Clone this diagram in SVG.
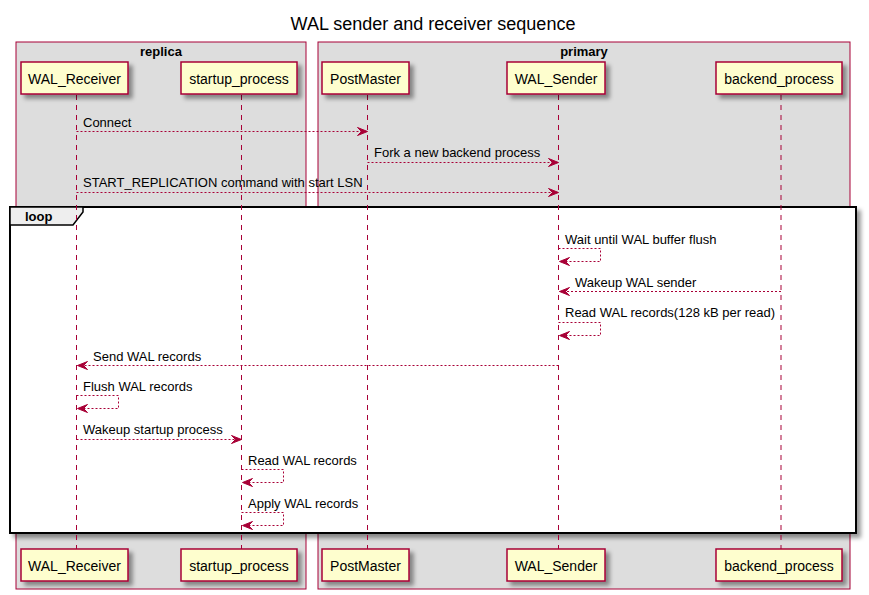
<svg xmlns="http://www.w3.org/2000/svg" width="869" height="595" viewBox="0 0 869 595">
<defs>
<filter id="sh" x="-1" y="-1" width="300%" height="300%">
<feGaussianBlur in="SourceAlpha" stdDeviation="2" result="b"/>
<feColorMatrix in="b" type="matrix" values="0 0 0 0 0 0 0 0 0 0 0 0 0 0 0 0 0 0 0.4 0" result="c"/>
<feOffset in="c" dx="4" dy="4" result="o"/>
<feBlend in="SourceGraphic" in2="o" mode="normal"/>
</filter>
<style>
text{font-family:"Liberation Sans",Arial,sans-serif;fill:#000}
.title{font-size:18px}
.boxt{font-size:13px;font-weight:bold}
.pt{font-size:14px}
.mt{font-size:13px}
.grp{fill:#DDDDDD;stroke:#A80036;stroke-width:1}
.part{fill:#FEFECE;stroke:#A80036;stroke-width:1.5}
.life{stroke:#A80036;stroke-width:1;stroke-dasharray:5,5;fill:none}
.msg{stroke:#A80036;stroke-width:1;stroke-dasharray:2,2;fill:none}
.head{fill:#A80036;stroke:#A80036;stroke-width:1}
.loop{fill:#FFFFFF;stroke:#000000;stroke-width:2}
.tab{fill:#EEEEEE;stroke:#000000;stroke-width:1.5}
</style>
</defs>

<text class="title" x="433" y="30" text-anchor="middle">WAL sender and receiver sequence</text>

<g id="box-replica">
<rect class="grp" x="16" y="42" width="290" height="547"/>
<text class="boxt" x="161" y="56" text-anchor="middle">replica</text>
</g>
<g id="box-primary">
<rect class="grp" x="318" y="42" width="532" height="547"/>
<text class="boxt" x="584" y="56" text-anchor="middle">primary</text>
</g>

<g id="loop">
<rect class="loop" x="10" y="207" width="846" height="326" filter="url(#sh)"/>
<path class="tab" d="M10,207 L83,207 L83,212 L73,225 L10,225 Z"/>
<text class="boxt" x="25" y="221">loop</text>
</g>

<g id="lifelines">
<line class="life" x1="76.5" y1="95" x2="76.5" y2="549"/>
<line class="life" x1="241.5" y1="95" x2="241.5" y2="549"/>
<line class="life" x1="367.5" y1="95" x2="367.5" y2="549"/>
<line class="life" x1="558.5" y1="95" x2="558.5" y2="549"/>
<line class="life" x1="781" y1="95" x2="781" y2="549"/>
</g>

<g id="WAL_Receiver">
<rect class="part" x="21" y="62" width="107" height="32" filter="url(#sh)"/>
<text class="pt" x="74.5" y="84" text-anchor="middle">WAL_Receiver</text>
<rect class="part" x="21" y="549" width="107" height="32" filter="url(#sh)"/>
<text class="pt" x="74.5" y="571" text-anchor="middle">WAL_Receiver</text>
</g>
<g id="startup_process">
<rect class="part" x="181" y="62" width="116" height="32" filter="url(#sh)"/>
<text class="pt" x="239" y="84" text-anchor="middle">startup_process</text>
<rect class="part" x="181" y="549" width="116" height="32" filter="url(#sh)"/>
<text class="pt" x="239" y="571" text-anchor="middle">startup_process</text>
</g>
<g id="PostMaster">
<rect class="part" x="322" y="62" width="87" height="32" filter="url(#sh)"/>
<text class="pt" x="365.5" y="84" text-anchor="middle">PostMaster</text>
<rect class="part" x="322" y="549" width="87" height="32" filter="url(#sh)"/>
<text class="pt" x="365.5" y="571" text-anchor="middle">PostMaster</text>
</g>
<g id="WAL_Sender">
<rect class="part" x="507" y="62" width="98" height="32" filter="url(#sh)"/>
<text class="pt" x="556" y="84" text-anchor="middle">WAL_Sender</text>
<rect class="part" x="507" y="549" width="98" height="32" filter="url(#sh)"/>
<text class="pt" x="556" y="571" text-anchor="middle">WAL_Sender</text>
</g>
<g id="backend_process">
<rect class="part" x="716" y="62" width="126" height="32" filter="url(#sh)"/>
<text class="pt" x="779" y="84" text-anchor="middle">backend_process</text>
<rect class="part" x="716" y="549" width="126" height="32" filter="url(#sh)"/>
<text class="pt" x="779" y="571" text-anchor="middle">backend_process</text>
</g>

<g id="connectors">
<!-- Connect -->
<line class="msg" x1="76.5" y1="131.5" x2="366.5" y2="131.5"/>
<polygon class="head" points="357.5,127.5 367.5,131.5 357.5,135.5 361.5,131.5"/>
<text class="mt" x="83" y="127">Connect</text>
<!-- Fork -->
<line class="msg" x1="367.5" y1="162.5" x2="557.5" y2="162.5"/>
<polygon class="head" points="548.5,158.5 558.5,162.5 548.5,166.5 552.5,162.5"/>
<text class="mt" x="374" y="157">Fork a new backend process</text>
<!-- START_REPLICATION -->
<line class="msg" x1="76.5" y1="192.5" x2="557.5" y2="192.5"/>
<polygon class="head" points="548.5,188.5 558.5,192.5 548.5,196.5 552.5,192.5"/>
<text class="mt" x="83" y="187">START_REPLICATION command with start LSN</text>
<!-- Wait until WAL buffer flush -->
<polyline class="msg" points="558.5,248.5 600.5,248.5 600.5,261.5 559.5,261.5"/>
<polygon class="head" points="569.5,257.5 559.5,261.5 569.5,265.5 565.5,261.5"/>
<text class="mt" x="565" y="244">Wait until WAL buffer flush</text>
<!-- Wakeup WAL sender -->
<line class="msg" x1="781" y1="291.5" x2="559.5" y2="291.5"/>
<polygon class="head" points="569.5,287.5 559.5,291.5 569.5,295.5 565.5,291.5"/>
<text class="mt" x="575" y="287">Wakeup WAL sender</text>
<!-- Read WAL records(128 kB per read) -->
<polyline class="msg" points="558.5,322.5 600.5,322.5 600.5,335.5 559.5,335.5"/>
<polygon class="head" points="569.5,331.5 559.5,335.5 569.5,339.5 565.5,335.5"/>
<text class="mt" x="565" y="317">Read WAL records(128 kB per read)</text>
<!-- Send WAL records -->
<line class="msg" x1="558.5" y1="365.5" x2="77.5" y2="365.5"/>
<polygon class="head" points="87.5,361.5 77.5,365.5 87.5,369.5 83.5,365.5"/>
<text class="mt" x="93" y="361">Send WAL records</text>
<!-- Flush WAL records -->
<polyline class="msg" points="76.5,395.5 118.5,395.5 118.5,408.5 77.5,408.5"/>
<polygon class="head" points="87.5,404.5 77.5,408.5 87.5,412.5 83.5,408.5"/>
<text class="mt" x="83" y="391">Flush WAL records</text>
<!-- Wakeup startup process -->
<line class="msg" x1="76.5" y1="439.5" x2="240.5" y2="439.5"/>
<polygon class="head" points="231.5,435.5 241.5,439.5 231.5,443.5 235.5,439.5"/>
<text class="mt" x="83" y="434">Wakeup startup process</text>
<!-- Read WAL records -->
<polyline class="msg" points="241.5,469.5 283.5,469.5 283.5,482.5 242.5,482.5"/>
<polygon class="head" points="252.5,478.5 242.5,482.5 252.5,486.5 248.5,482.5"/>
<text class="mt" x="248" y="465">Read WAL records</text>
<!-- Apply WAL records -->
<polyline class="msg" points="241.5,512.5 283.5,512.5 283.5,525.5 242.5,525.5"/>
<polygon class="head" points="252.5,521.5 242.5,525.5 252.5,529.5 248.5,525.5"/>
<text class="mt" x="248" y="508">Apply WAL records</text>
</g>
</svg>
